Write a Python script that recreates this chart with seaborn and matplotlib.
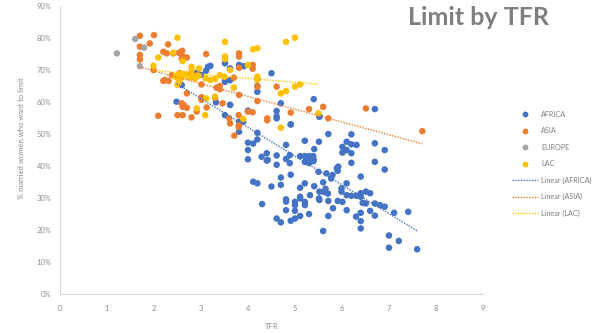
import numpy as np
import pandas as pd
import matplotlib
matplotlib.use("Agg")
import matplotlib.pyplot as plt
from matplotlib.ticker import PercentFormatter
import seaborn as sns

## values (TFR, % married women who want to limit)
africa_tfr = [2.48, 2.59, 2.91, 3.11, 3.2, 3.01, 3.51, 3.62, 3.81, 3.91, 3.51, 3.62, 3.32, 3.62, 3.51,
              4.0, 4.2, 4.2, 4.2, 4.5, 4.61, 4.61, 4.61, 4.7, 4.91, 3.81, 3.81, 4.2, 4.2, 4.0,
              4.11, 4.0, 4.0, 4.29, 4.4, 4.42, 4.61, 4.81, 4.61, 4.81, 4.89, 4.89, 5.11, 5.21, 5.3,
              5.39, 5.21, 5.3, 5.39, 5.26, 5.21, 5.41, 5.51, 5.71, 5.4, 6.7, 5.52, 6.2, 5.92, 6.91,
              6.7, 6.2, 6.01, 6.1, 6.2, 6.31, 6.01, 6.1, 6.2, 6.7, 6.91, 5.91, 5.8, 6.4, 6.1,
              5.99, 5.99, 6.1, 6.2, 6.31, 6.4, 6.4, 6.51, 6.6, 6.44, 6.51, 6.7, 6.81, 6.91, 6.6,
              6.7, 6.4, 6.4, 6.4, 6.3, 6.1, 6.01, 5.91, 5.81, 7.11, 7.41, 7.0, 7.21, 7.0, 7.6,
              5.6, 5.71, 5.71, 5.5, 5.67, 5.77, 5.6, 5.65, 5.7, 5.62, 5.89, 4.11, 4.2, 4.5, 4.7,
              4.7, 4.91, 5.11, 5.21, 5.11, 5.32, 5.41, 5.51, 5.52, 5.52, 4.81, 4.81, 5.0, 5.0, 5.11,
              5.21, 5.21, 4.3, 4.81, 5.0, 5.3, 5.11, 5.0, 4.91, 4.61, 4.7, 4.4, 5.4, 2.91, 3.15,
              3.51, 3.9, 4.0, 3.62, 5.52, 4.91]
africa_lim = [60.2, 65.4, 69.3, 69.9, 71.4, 68.6, 72.2, 70.6, 71.7, 71.3, 66.4, 66.9, 60.0, 59.2, 56.0,
              57.4, 67.3, 65.1, 63.3, 69.1, 57.3, 55.6, 55.0, 59.7, 53.1, 53.9, 50.8, 50.5, 48.4, 47.4,
              47.1, 45.1, 42.2, 43.0, 44.1, 42.0, 43.4, 46.7, 40.5, 42.3, 43.5, 41.0, 43.2, 43.2, 43.2,
              43.2, 41.4, 41.0, 41.6, 42.3, 48.0, 45.4, 47.7, 50.1, 61.0, 57.9, 55.7, 50.0, 39.9, 39.0,
              41.4, 41.1, 46.1, 47.7, 46.9, 46.7, 44.3, 45.1, 44.1, 47.2, 45.1, 38.6, 37.3, 36.8, 34.7,
              33.1, 32.1, 31.0, 30.8, 30.8, 31.6, 30.5, 32.1, 31.6, 28.6, 28.4, 28.4, 27.9, 27.4, 26.1,
              24.6, 25.5, 22.9, 20.6, 24.3, 26.3, 28.9, 29.2, 26.9, 25.5, 25.8, 18.4, 16.7, 14.6, 14.1,
              19.8, 24.5, 29.2, 38.3, 37.8, 36.2, 35.0, 33.0, 31.5, 32.0, 39.4, 35.2, 34.7, 33.7, 36.5,
              34.2, 37.4, 33.3, 34.7, 30.5, 31.0, 33.8, 30.0, 32.1, 29.5, 29.7, 29.0, 28.9, 27.9, 30.0,
              28.9, 27.9, 28.2, 26.3, 26.1, 25.1, 24.5, 23.7, 23.0, 23.7, 22.5, 41.8, 42.0, 68.5, 71.1,
              67.0, 53.9, 57.3, 59.2, 55.5, 53.1]

asia_tfr = [1.70, 2.0, 1.91, 1.70, 1.70, 1.70, 2.30, 2.2, 2.27, 2.41, 2.6, 2.53, 2.59, 2.70, 1.99,
            2.2, 2.31, 2.38, 2.55, 2.70, 2.59, 2.61, 2.70, 2.09, 2.50, 2.61, 2.80, 2.91, 3.01, 3.01,
            3.12, 3.11, 3.01, 3.33, 3.4, 3.4, 3.30, 3.46, 3.62, 3.6, 3.81, 3.8, 3.71, 3.8, 4.0,
            3.81, 3.7, 3.81, 3.81, 3.81, 4.1, 4.1, 4.2, 4.2, 4.1, 4.41, 4.41, 4.61, 4.91, 5.3,
            5.6, 5.71, 6.51, 7.71, 2.23, 2.73, 2.91, 2.62, 2.63, 2.85]
asia_lim = [80.8, 81.0, 78.4, 77.4, 74.8, 73.4, 78.1, 75.8, 75.3, 75.3, 76.1, 75.5, 73.7, 74.0, 70.1,
            66.7, 66.7, 68.5, 69.1, 62.8, 59.7, 58.6, 58.3, 55.8, 56.0, 56.0, 55.3, 57.1, 61.6, 60.8,
            58.4, 75.1, 65.6, 64.6, 64.1, 65.1, 61.4, 59.7, 53.4, 55.0, 52.9, 52.3, 49.6, 56.0, 57.1,
            62.3, 67.7, 70.8, 75.3, 74.3, 71.7, 70.5, 64.9, 60.4, 56.9, 55.0, 54.4, 64.9, 56.8, 57.9,
            58.6, 55.0, 58.1, 51.0, 67.0, 68.5, 68.5, 74.3, 59.2, 67.8]

europe_tfr = [1.21, 1.6, 1.79, 1.70]
europe_lim = [75.3, 79.8, 77.1, 71.3]

lac_tfr = [2.50, 3.51, 2.09, 2.41, 2.61, 1.99, 2.80, 2.80, 2.96, 3.51, 3.51, 4.11, 4.2, 4.0, 4.2,
           4.2, 3.62, 3.4, 2.45, 2.52, 2.58, 2.62, 2.68, 2.75, 2.82, 2.88, 2.95, 2.55, 2.52, 2.50,
           3.1, 3.2, 3.3, 3.5, 3.7, 3.11, 2.91, 3.09, 3.9, 4.7, 4.7, 4.81, 5.0, 5.11, 4.81,
           5.0, 5.5, 3.3]
lac_lim = [80.2, 78.9, 74.0, 75.5, 72.9, 71.4, 71.1, 70.1, 70.6, 74.3, 73.5, 76.6, 76.9, 71.7, 68.0,
           67.0, 70.1, 68.5, 68.0, 68.6, 69.0, 68.2, 68.8, 67.8, 68.4, 67.5, 68.3, 67.0, 66.0, 65.5,
           67.5, 67.0, 67.3, 68.0, 64.6, 61.2, 58.1, 56.0, 54.8, 52.1, 62.8, 63.5, 64.9, 65.6, 78.9,
           80.2, 56.6, 61.8]

regions = ["AFRICA", "ASIA", "EUROPE", "LAC"]
colors = {"AFRICA": "#4472C4", "ASIA": "#ED7D31", "EUROPE": "#A5A5A5", "LAC": "#FFC000"}

df = pd.concat([
    pd.DataFrame({"TFR": africa_tfr, "limit": africa_lim, "region": "AFRICA"}),
    pd.DataFrame({"TFR": asia_tfr, "limit": asia_lim, "region": "ASIA"}),
    pd.DataFrame({"TFR": europe_tfr, "limit": europe_lim, "region": "EUROPE"}),
    pd.DataFrame({"TFR": lac_tfr, "limit": lac_lim, "region": "LAC"}),
], ignore_index=True)

sns.set_style("white")
plt.rcParams["font.family"] = ["Lato", "DejaVu Sans"]

fig = plt.figure(figsize=(5.94, 3.33), dpi=100)
ax = fig.add_axes([0.101, 0.116, 0.712, 0.865])

sns.scatterplot(data=df, x="TFR", y="limit", hue="region", hue_order=regions,
                palette=colors, s=22, edgecolor="none", ax=ax)
ax.get_legend().remove()

## Excel style linear trendlines over each region's range
for r in ["AFRICA", "ASIA", "LAC"]:
    sns.regplot(data=df[df.region == r], x="TFR", y="limit", scatter=False, ci=None,
                truncate=True, color=colors[r], label="Linear (" + r + ")",
                line_kws=dict(linestyle=(0, (1, 1)), linewidth=1.0), ax=ax)

handles, labels = ax.get_legend_handles_labels()
ax.legend(handles, labels, loc="upper left", bbox_to_anchor=(512 / 594, 1 - 111 / 333),
          bbox_transform=fig.transFigure, frameon=False, fontsize=5.2, labelcolor="#7f7f7f",
          handlelength=3.6, handletextpad=0.4, labelspacing=1.3, borderaxespad=0, borderpad=0,
          markerscale=0.9)

ax.set_xlim(0, 9)
ax.set_ylim(0, 90)
ax.set_xticks(range(0, 10))
ax.set_yticks(range(0, 91, 10))
ax.yaxis.set_major_formatter(PercentFormatter(xmax=100, decimals=0))
ax.tick_params(axis="both", length=0, labelsize=5.5, labelcolor="#8c8c8c")
ax.tick_params(axis="x", pad=8)
ax.tick_params(axis="y", pad=6)

for s in ["top", "right"]:
    ax.spines[s].set_visible(False)
for s in ["left", "bottom"]:
    ax.spines[s].set_color("#d9d9d9")
    ax.spines[s].set_linewidth(0.8)

ax.set_xlabel("TFR", fontsize=5.5, color="#8c8c8c")
ax.xaxis.set_label_coords(0.501, -0.098)
ax.set_ylabel("% married women who want to limit", fontsize=5.5, color="#8c8c8c")
ax.yaxis.set_label_coords(-0.083, 0.544)

fig.text(408 / 594, 1 - 25 / 333, "Limit by TFR", fontsize=18, fontweight="bold",
         color="#7f7f7f", ha="left", va="baseline")

fig.savefig("out.png", dpi=100)
